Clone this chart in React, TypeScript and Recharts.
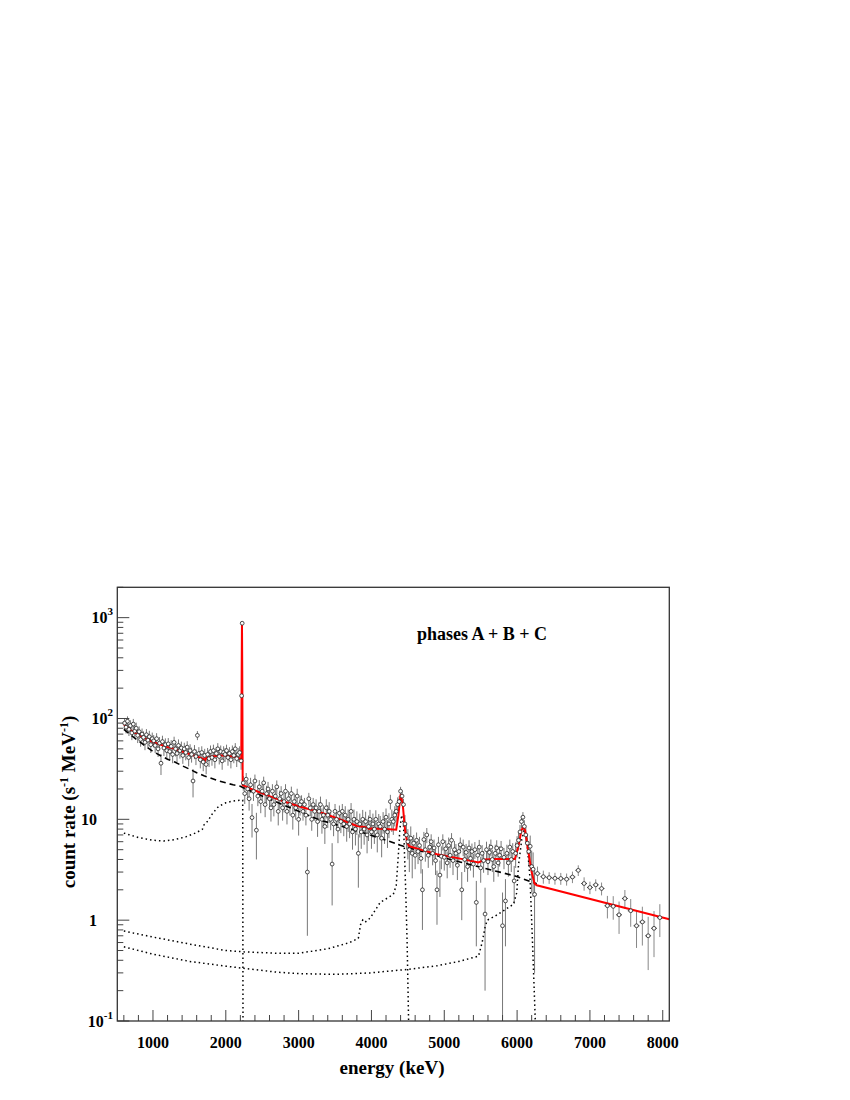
import React from 'react';
import { ComposedChart, Line, Scatter, ErrorBar, XAxis, YAxis } from 'recharts';

// plot box in svg coordinates
const W = 842;
const H = 1092;
const PLOT = { left: 109.3, right: 661.3, top: 579.3, bottom: 1013 };
const FONT = "'Liberation Serif', 'Times New Roman', serif";

const xDomain = [510, 8090];
const yDomain = [0.1, 2000];
const xTicks = [600, 800, 1000, 1200, 1400, 1600, 1800, 2000, 2200, 2400, 2600, 2800, 3000, 3200, 3400, 3600, 3800, 4000, 4200, 4400, 4600, 4800, 5000, 5200, 5400, 5600, 5800, 6000, 6200, 6400, 6600, 6800, 7000, 7200, 7400, 7600, 7800, 8000];
const yTicks = [0.1, 0.2, 0.3, 0.4, 0.5, 0.6, 0.7, 0.8, 0.9, 1, 2, 3, 4, 5, 6, 7, 8, 9, 10, 20, 30, 40, 50, 60, 70, 80, 90, 100, 200, 300, 400, 500, 600, 700, 800, 900, 1000, 2000];

// measured spectrum, 20 keV bins; errors read per group of 10 bins
const binWidth = 20;
const lowStart = 600;
const lowRate = [
  90, 82, 94, 78, 85, 72, 88, 75, 80, 68,
  74, 62, 70, 65, 58, 69, 61, 66, 55, 63,
  60, 54, 63, 50, 57, 36, 59, 51, 55, 48,
  56, 47, 53, 44, 58, 50, 45, 54, 48, 51,
  43, 50, 46, 52, 41, 48, 44, 24, 47, 42,
  68, 45, 39, 46, 37, 43, 35, 44, 40, 47,
  41, 48, 39, 45, 50, 42, 47, 38, 46, 44,
  48, 41, 45, 39, 47, 43, 50, 40, 44, 46,
  38,
];
const lowErr = [11, 9.5, 8.5, 8, 7.5, 7, 7, 7, 7];

const lineX = [2217, 2225];
const lineRate = [168, 880];
const lineErr = [20, 40];

const midStart = 2230;
const midRate = [
  23, 18, 25, 20, 16, 22, 10.4, 19, 24, 7.8,
  17, 21, 15, 19, 23, 14, 18, 20, 16, 13,
  19, 14, 17, 21, 12, 16, 18, 13, 15, 19,
  12, 16, 14, 18, 11, 15, 13, 17, 10, 14,
  15, 12, 14, 11, 3.0, 16, 13, 10, 14, 12,
  13, 9.5, 12, 14, 10, 11, 8.5, 13, 11, 12,
  10, 3.6, 9, 12, 10, 8, 11.5, 9.5, 12, 9,
  11, 8.5, 10, 9, 12, 7.5, 10, 8, 9.5, 4.6,
  9, 7.5, 10, 8, 9.5, 7, 8.5, 10, 7.5, 9,
  8, 10, 7, 9, 8.5, 6.5, 9.5, 8, 10.5, 7.5,
  9, 15, 10, 9.5, 11, 12, 14,
];
const midErr = [3.8, 3.5, 3.3, 3.1, 2.3, 2.8, 2.2, 2.5, 2.4, 2.3, 2.5];

const highStart = 4370;
const highRate = [
  15, 19, 17, 14, 9, 7, 6, 5, 6.5, 4.6,
  5.8, 4.4, 6.2, 4.8, 5.5, 4.1, 2.0, 6.3, 5, 7,
  4.4, 5.3, 6, 4.6, 5.2, 3.9, 2.0, 5.6, 2.8, 4.3,
  6, 4.2, 5.1, 3.7, 5.5, 4.4, 6.2, 3.9, 5.0, 4.6,
  3.5, 4.8, 5.6, 2.0, 5.3, 4.0, 4.7, 3.4, 5.2, 4.1,
  4.8, 3.6, 5.0, 1.5, 4.4, 5.3, 3.3, 4.6, 3.9, 1.15,
  5.0, 3.8, 4.7, 5.3, 4.0, 3.4, 4.6, 5.2, 3.7, 4.4,
  5.1, 0.88, 4.2, 1.55, 4.6, 3.7, 5.3, 4.0, 4.8, 2.45,
  4.6, 5.5, 6.2, 7.5, 9.5, 10.5, 8.5, 7, 5.8, 4.8,
  5.4, 3.4, 3.2, 1.8,
];
const highErr = [2.0, 1.2, 1.1, 1.1, 1.0, 0.95, 1.0, 1.0, 1.3, 1.5];

// wide bins above 6.2 MeV, 80 keV
const tailStart = 6240;
const tailWidth = 80;
const tailRate = [2.9, 2.7, 2.64, 2.6, 2.59, 2.55, 2.68, 3.12, 2.31, 2.11, 2.24, 2.06, 1.39, 1.37, 1.13, 1.64, 1.24, 0.88, 0.96, 0.7, 0.83, 1.06];
const tailErr = [0.5, 0.4, 0.35, 0.35, 0.35, 0.35, 0.35, 0.38, 0.35, 0.3, 0.3, 0.3, 0.35, 0.36, 0.4, 0.35, 0.38, 0.35, 0.4, 0.38, 0.4, 0.38];

// total fit (red)
const fitE = [600, 700, 800, 900, 1000, 1100, 1200, 1300, 1400, 1500, 1600, 1700, 1715, 1730, 1800, 1900, 2000, 2100, 2180, 2212, 2218, 2222, 2226, 2232, 2340, 2600, 2800, 3000, 3325, 3600, 3800, 3950, 3965, 4000, 4200, 4340, 4370, 4400, 4430, 4460, 4490, 4520, 4700, 4900, 5200, 5470, 5560, 5700, 5970, 6020, 6060, 6087, 6110, 6150, 6200, 6240, 6270, 8090];
const fitRate = [87, 76, 69, 63, 58.5, 55, 52, 50, 47, 44.5, 42, 39.5, 38.3, 40.5, 41.8, 43, 43, 42, 40.5, 39, 300, 900, 300, 21.8, 20.1, 17, 15, 13.5, 11.6, 9.8, 8.6, 8.3, 8.05, 8.1, 8.0, 7.9, 11, 17.7, 14, 8, 5.9, 5.4, 4.95, 4.5, 4.1, 3.73, 4.0, 4.05, 4.05, 5.5, 7.8, 8.4, 7.8, 5, 3.0, 2.3, 2.22, 1.02];

// continuum (dashed)
const contE = [600, 700, 800, 900, 1000, 1100, 1200, 1300, 1400, 1500, 1600, 1700, 1800, 1900, 2000, 2100, 2200, 2240, 2500, 2800, 3000, 3300, 3600, 3983, 4200, 4440, 4700, 4900, 5200, 5520, 5800, 5973, 6225, 6270];
const contRate = [78, 68, 60, 53, 47, 43, 39.5, 37, 34, 31.5, 29, 27, 25.5, 24, 23, 22, 21.3, 20.6, 17, 13.8, 12, 9.8, 8.5, 7.0, 6.2, 5.4, 4.8, 4.35, 3.8, 3.32, 2.95, 2.74, 2.36, 2.3];

// line components (dotted): 2223, 4438, 6129 keV
const nE = [600, 800, 1000, 1150, 1300, 1450, 1600, 1680, 1700, 1720, 1760, 1820, 1900, 2000, 2100, 2200, 2232, 2236];
const nRate = [7.3, 6.6, 6.2, 6.1, 6.3, 6.7, 7.4, 8.0, 8.8, 9.0, 9.8, 11.5, 13.4, 14.6, 15.2, 15.5, 15.5, 0.1];
const cE = [600, 1000, 1500, 2000, 2245, 2700, 3000, 3400, 3700, 3820, 3850, 3880, 3910, 3983, 4120, 4300, 4340, 4370, 4390, 4415, 4440, 4470, 4490, 4510];
const cRate = [0.78, 0.68, 0.58, 0.5, 0.485, 0.47, 0.47, 0.52, 0.6, 0.66, 0.9, 1.0, 0.95, 1.05, 1.5, 1.8, 2.2, 4.5, 8, 11, 9, 2, 0.6, 0.1];
const oE = [600, 1000, 1500, 2000, 2245, 2700, 3000, 3500, 3983, 4500, 4900, 5200, 5470, 5520, 5560, 5590, 5700, 5813, 5950, 5996, 6018, 6064, 6096, 6133, 6178, 6210, 6250];
const oRate = [0.544, 0.46, 0.39, 0.35, 0.333, 0.305, 0.295, 0.29, 0.3, 0.325, 0.353, 0.39, 0.44, 0.6, 0.85, 1.0, 1.1, 1.24, 1.44, 1.88, 3.45, 6.3, 7.7, 6.3, 2.55, 0.65, 0.1];

const yMin = yDomain[0];
const point = (x: number, y: number, e: number, ex = 0) => ({
  x, y, ey: [Math.min(e, y - yMin * 1.01), e], ex,
});
const binned = (start: number, width: number, rate: number[], err: (i: number) => number) =>
  rate.map((y, i) => point(start + width * (i + 0.5), y, err(i), width / 2));
const curve = (e: number[], r: number[]) => e.map((x, i) => ({ x, y: r[i] }));
const grouped = (err: number[]) => (i: number) => err[Math.floor(i / 10)];

const dataPts = [
  ...binned(lowStart, binWidth, lowRate, grouped(lowErr)),
  ...lineX.map((x, i) => point(x, lineRate[i], lineErr[i])),
  ...binned(midStart, binWidth, midRate, grouped(midErr)),
  ...binned(highStart, binWidth, highRate, grouped(highErr)),
];
const tailPts = binned(tailStart, tailWidth, tailRate, (i) => tailErr[i]);

const Marker = (p: any) => (
  <circle cx={p.cx} cy={p.cy} r={1.9} fill="#fff" stroke="#222" strokeWidth={0.8} />
);

const XTick = ({ x, payload }: any) => {
  const v = payload.value;
  const major = v % 1000 === 0;
  return (
    <g>
      <line x1={x} x2={x} y1={PLOT.bottom} y2={PLOT.bottom - (major ? 11 : 6)} stroke="#444" />
      {major && (
        <text x={x} y={PLOT.bottom + 27} textAnchor="middle" fontFamily={FONT} fontWeight="bold" fontSize={16} fill="#000">
          {v}
        </text>
      )}
    </g>
  );
};

const YTick = ({ y, payload }: any) => {
  const v = payload.value;
  const lg = Math.log10(v);
  const exp = Math.round(lg);
  const major = Math.abs(lg - exp) < 1e-6;
  let label = null;
  if (major) {
    if (exp === 0 || exp === 1) {
      label = (
        <text x={89} y={y + 5.5} textAnchor="end" fontFamily={FONT} fontWeight="bold" fontSize={16} fill="#000">
          {exp === 0 ? '1' : '10'}
        </text>
      );
    } else {
      label = (
        <text x={105} y={y + 5.5} textAnchor="end" fontFamily={FONT} fontWeight="bold" fontSize={16} fill="#000">
          10<tspan dy={-8} fontSize={11}>{exp}</tspan>
        </text>
      );
    }
  }
  return (
    <g>
      <line x1={PLOT.left} x2={PLOT.left + (major ? 12 : 6)} y1={y} y2={y} stroke="#444" />
      {label}
    </g>
  );
};

export default function App() {
  return (
    <div style={{ position: 'relative', width: W, height: H }}>
      <ComposedChart
        width={W}
        height={H}
        margin={{ top: PLOT.top, right: W - PLOT.right, bottom: 39, left: PLOT.left - 100 }}
      >
        <XAxis
          dataKey="x"
          type="number"
          domain={xDomain}
          ticks={xTicks}
          interval={0}
          allowDataOverflow
          axisLine={false}
          tickLine={false}
          height={40}
          tick={<XTick />}
        />
        <YAxis
          dataKey="y"
          type="number"
          scale="log"
          domain={yDomain}
          ticks={yTicks}
          interval={0}
          allowDataOverflow
          axisLine={false}
          tickLine={false}
          width={100}
          tick={<YTick />}
        />
        <Scatter data={dataPts} dataKey="y" shape={<Marker />} isAnimationActive={false}>
          <ErrorBar dataKey="ey" direction="y" width={0} stroke="#777" strokeWidth={1} isAnimationActive={false} />
        </Scatter>
        <Scatter data={tailPts} dataKey="y" shape={<Marker />} isAnimationActive={false}>
          <ErrorBar dataKey="ey" direction="y" width={0} stroke="#888" strokeWidth={1} isAnimationActive={false} />
          <ErrorBar dataKey="ex" direction="x" width={0} stroke="#444" strokeWidth={1} isAnimationActive={false} />
        </Scatter>
        <Line data={curve(nE, nRate)} dataKey="y" type="linear" stroke="#000" strokeWidth={1.5} strokeDasharray="1.5 3" dot={false} isAnimationActive={false} />
        <Line data={curve(cE, cRate)} dataKey="y" type="linear" stroke="#000" strokeWidth={1.5} strokeDasharray="1.5 3" dot={false} isAnimationActive={false} />
        <Line data={curve(oE, oRate)} dataKey="y" type="linear" stroke="#000" strokeWidth={1.5} strokeDasharray="1.5 3" dot={false} isAnimationActive={false} />
        <Line data={curve(contE, contRate)} dataKey="y" type="linear" stroke="#000" strokeWidth={1.6} strokeDasharray="6 4" dot={false} isAnimationActive={false} />
        <Line data={curve(fitE, fitRate)} dataKey="y" type="linear" stroke="#ff0000" strokeWidth={2} dot={false} isAnimationActive={false} />
      </ComposedChart>
      <svg width={W} height={H} style={{ position: 'absolute', left: 0, top: 0, pointerEvents: 'none' }}>
        <rect
          x={PLOT.left}
          y={PLOT.top}
          width={PLOT.right - PLOT.left}
          height={PLOT.bottom - PLOT.top}
          fill="none"
          stroke="#333"
          strokeWidth={1.3}
        />
        <text x={474} y={632} textAnchor="middle" fontFamily={FONT} fontWeight="bold" fontSize={18}>
          phases A + B + C
        </text>
        <text x={384} y={1066} textAnchor="middle" fontFamily={FONT} fontWeight="bold" fontSize={19}>
          energy (keV)
        </text>
        <text transform="translate(67,794) rotate(-90)" textAnchor="middle" fontFamily={FONT} fontWeight="bold" fontSize={19}>
          count rate (s<tspan dy={-7} fontSize={12}>-1</tspan><tspan dy={7}> MeV</tspan><tspan dy={-7} fontSize={12}>-1</tspan><tspan dy={7}>)</tspan>
        </text>
      </svg>
    </div>
  );
}
